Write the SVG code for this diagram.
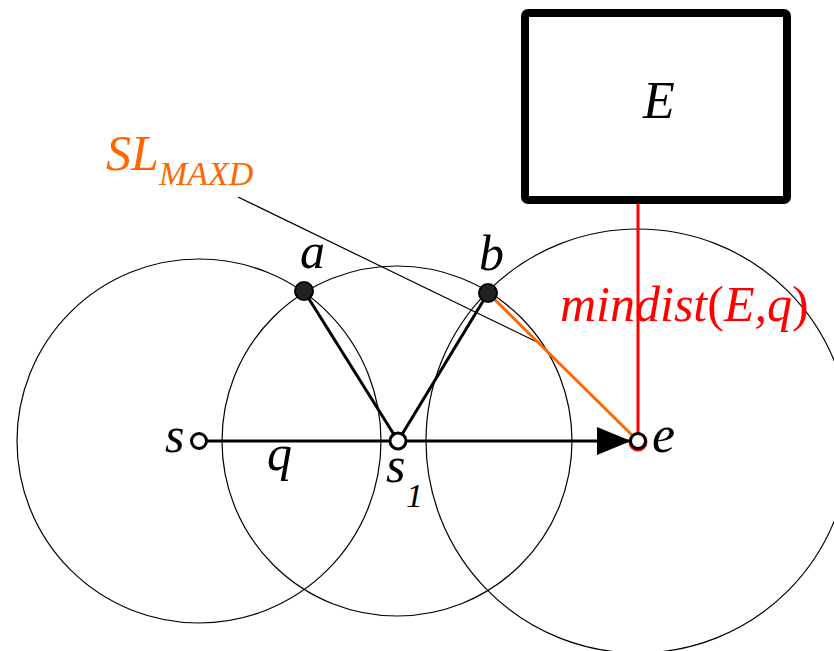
<svg xmlns="http://www.w3.org/2000/svg" width="834" height="651" viewBox="0 0 834 651">
<style>
.c{fill:none;stroke:#000;stroke-width:1.2}
.t{font-family:"Liberation Serif","Times New Roman",serif;font-style:italic}
.pt{fill:#fff;stroke:#000;stroke-width:3}
.fp{fill:#222;stroke:#000;stroke-width:2}
</style>
<defs>
<marker id="ah" markerUnits="userSpaceOnUse" markerWidth="40" markerHeight="30" refX="34" refY="14" orient="auto">
<path d="M0,0 L34,14 L0,28 Z" fill="#000"/>
</marker>
</defs>
<rect width="834" height="651" fill="#fff"/>
<g id="circles">
<circle class="c" cx="199" cy="441" r="182"/>
<circle class="c" cx="397" cy="441" r="175"/>
<circle class="c" cx="638" cy="441" r="212"/>
</g>
<g id="connectors">
<line x1="238" y1="197" x2="537" y2="342" stroke="#000" stroke-width="1.2"/>
<line x1="304" y1="291" x2="398" y2="441" stroke="#000" stroke-width="3"/>
<line x1="398" y1="441" x2="488" y2="293" stroke="#000" stroke-width="3"/>
<line x1="488" y1="293" x2="638" y2="441" stroke="#ff6600" stroke-width="3"/>
<line x1="638" y1="204" x2="638" y2="441" stroke="#ff0000" stroke-width="3"/>
<line x1="199" y1="441" x2="631" y2="441" stroke="#000" stroke-width="3" marker-end="url(#ah)"/>
</g>
<g id="E">
<rect x="525" y="13" width="262" height="187" rx="3" fill="#fff" stroke="#000" stroke-width="8"/>
<text class="t" x="643" y="118" font-size="52">E</text>
</g>
<g id="a">
<circle class="fp" cx="304" cy="291" r="9"/>
<text class="t" x="300" y="268" font-size="50">a</text>
</g>
<g id="b">
<circle class="fp" cx="488" cy="293" r="9"/>
<text class="t" x="479" y="270" font-size="50">b</text>
</g>
<g id="s">
<circle class="pt" cx="199" cy="441" r="7.5"/>
<text class="t" x="165" y="452" font-size="50">s</text>
</g>
<g id="s1">
<circle class="pt" cx="398" cy="441" r="8"/>
<text class="t" x="386" y="482" font-size="50">s</text>
<text class="t" x="406" y="507" font-size="34">1</text>
</g>
<g id="e">
<circle cx="638" cy="442" r="8" fill="none" stroke="#ff0000" stroke-width="3"/>
<circle class="pt" cx="638" cy="441" r="7.5"/>
<text class="t" x="652" y="452" font-size="52">e</text>
</g>
<text class="t" x="267" y="470" font-size="50">q</text>
<text class="t" x="106" y="170" font-size="50" fill="#ff6600">SL</text>
<text class="t" x="159" y="185" font-size="34" fill="#ff6600">MAXD</text>
<text class="t" x="560" y="321" font-size="50" fill="#ff0000">mindist<tspan font-style="normal">(</tspan>E,q<tspan font-style="normal">)</tspan></text>
</svg>
